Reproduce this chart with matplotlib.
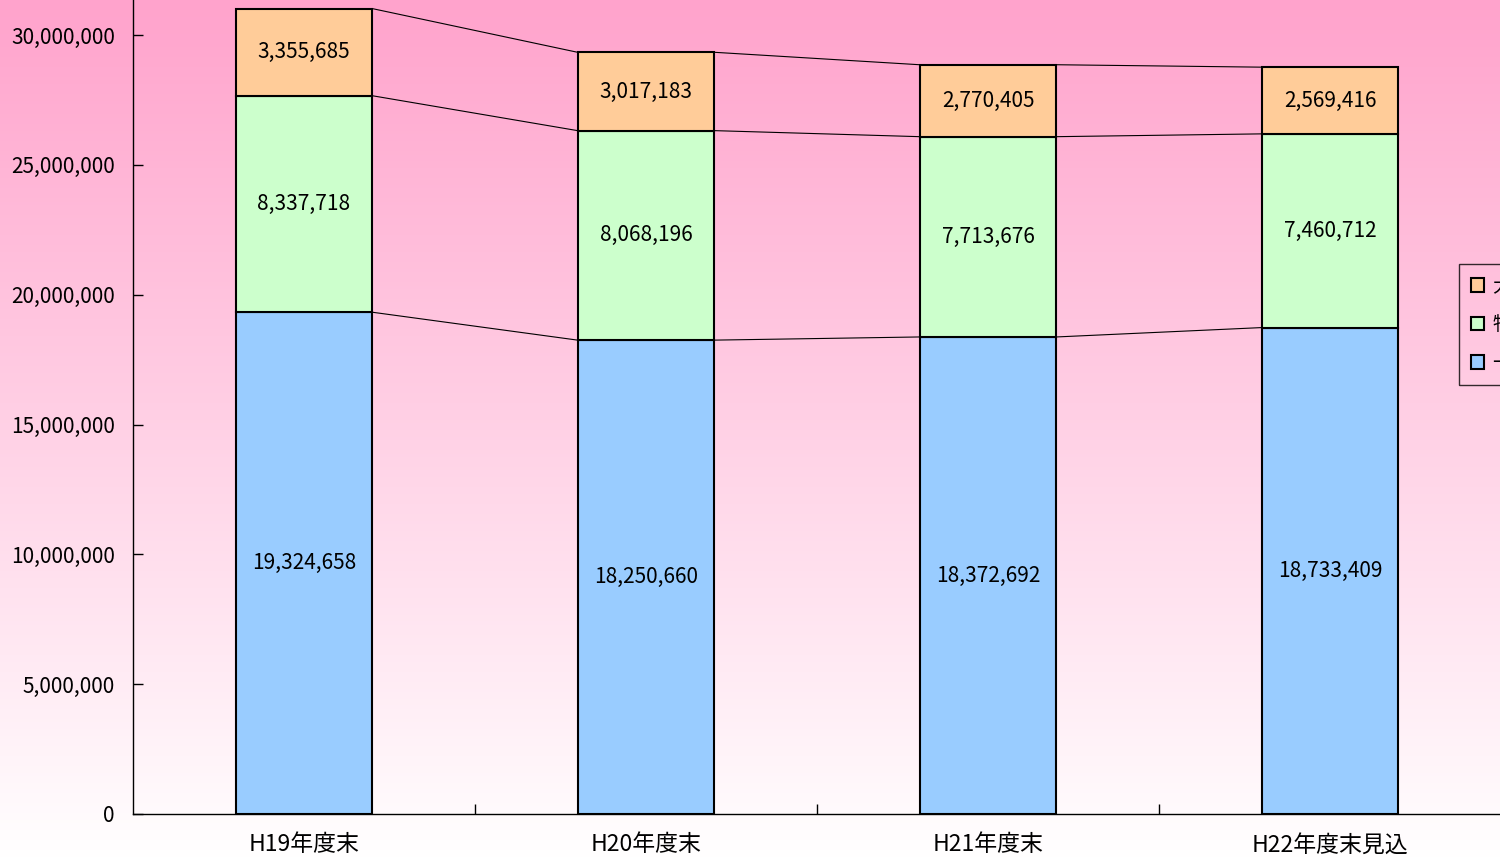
import numpy as np
import matplotlib
matplotlib.use("Agg")
import matplotlib.pyplot as plt
from matplotlib.ticker import FuncFormatter, FixedLocator

plt.rcParams['font.family'] = ['Noto Sans CJK JP', 'DejaVu Sans']

# データ
categories = ['H19年度末', 'H20年度末', 'H21年度末', 'H22年度末見込']
series_names = ['一般', '特別', '大口']
ippan = [19324658, 18250660, 18372692, 18733409]
tokubetsu = [8337718, 8068196, 7713676, 7460712]
ooguchi = [3355685, 3017183, 2770405, 2569416]
colors = ['#99CCFF', '#CCFFCC', '#FFCC99']
yticks = [0, 5000000, 10000000, 15000000, 20000000, 25000000, 30000000]

fig = plt.figure(figsize=(15, 8.6), dpi=100)

# 背景グラデーション
bg = fig.add_axes([0, 0, 1, 1], zorder=0)
grad = np.linspace(0, 1, 256).reshape(-1, 1)
top = np.array([255, 163, 204]) / 255.0
bot = np.array([255, 255, 255]) / 255.0
img = top[None, None, :] * (1 - grad[:, :, None]) + bot[None, None, :] * grad[:, :, None]
bg.imshow(img, aspect='auto', extent=[0, 1, 0, 1])
bg.axis('off')

ax = fig.add_axes([133 / 1500, 46 / 860, 1368 / 1500, 814 / 860], zorder=1)
ax.set_facecolor('none')

x = np.arange(len(categories))
w = 0.4
series = [ippan, tokubetsu, ooguchi]
bottom = np.zeros(len(categories))
tops = []
for name, vals, c in zip(series_names, series, colors):
    vals = np.array(vals, dtype=float)
    ax.bar(x, vals, w, bottom=bottom, color=c, edgecolor='black', linewidth=1.5,
           label=name, zorder=3)
    for xi, b, v in zip(x, bottom, vals):
        ax.text(xi, b + v / 2, f'{int(v):,}', ha='center', va='center', fontsize=15, zorder=4)
    bottom = bottom + vals
    tops.append(bottom.copy())

# 区分線
for t in tops:
    for i in range(len(categories) - 1):
        ax.plot([x[i] + w / 2, x[i + 1] - w / 2], [t[i], t[i + 1]], color='black', lw=0.8, zorder=2)

ax.set_xlim(-0.5, len(categories) - 0.5)
ax.set_ylim(0, 31350000)
ax.set_yticks(yticks)
ax.yaxis.set_major_formatter(FuncFormatter(lambda v, p: f'{int(v):,}'))
ax.set_xticks(x)
ax.set_xticklabels(categories, fontsize=16.5)
ax.xaxis.set_minor_locator(FixedLocator(x[:-1] + 0.5))
ax.tick_params(axis='x', which='major', length=0, pad=14)
ax.tick_params(axis='x', which='minor', direction='in', length=7, width=1)
ax.tick_params(axis='y', direction='in', length=7, width=1, labelsize=15, pad=13)
ax.spines['top'].set_visible(False)
ax.spines['right'].set_visible(False)
ax.spines['left'].set_linewidth(1)
ax.spines['bottom'].set_linewidth(1)

h, l = ax.get_legend_handles_labels()
leg = fig.legend(h[::-1], l[::-1], loc='upper left', bbox_to_anchor=(1459 / 1500, 596 / 860),
                 borderaxespad=0, fontsize=14, frameon=True, fancybox=False,
                 handlelength=0.7, handleheight=0.7,
                 borderpad=0.6, labelspacing=0.9, handletextpad=0.4)
leg.get_frame().set_edgecolor('black')
leg.get_frame().set_facecolor('none')
leg.get_frame().set_linewidth(1)
leg.set_zorder(5)

fig.savefig('out.png', dpi=100)
